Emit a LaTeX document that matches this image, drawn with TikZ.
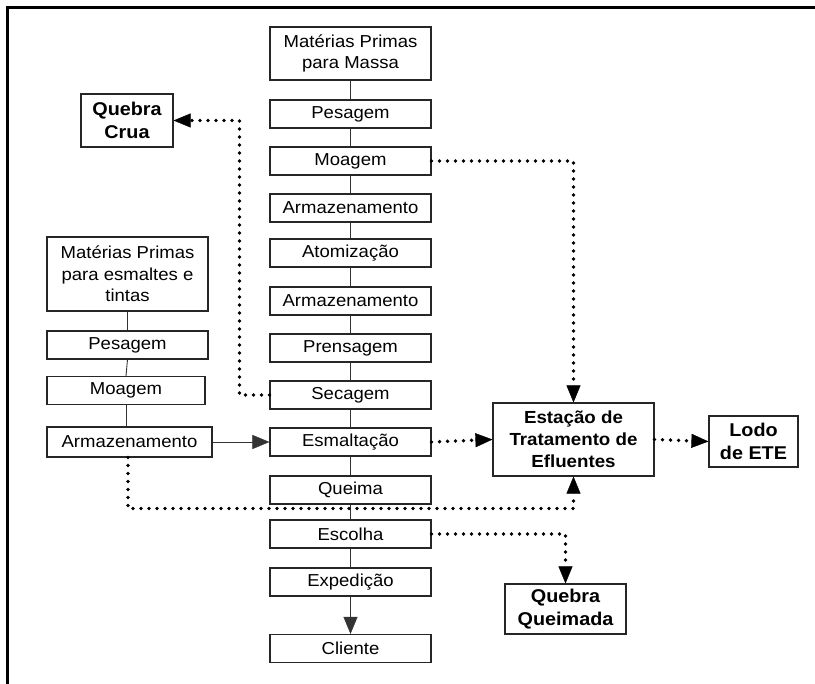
\documentclass[tikz,border=0pt]{standalone}
\usepackage{fontspec}
\setmainfont{Liberation Sans}[FakeStretch=1.07]
\usetikzlibrary{arrows.meta}
\begin{document}
\begin{tikzpicture}[x=1pt,y=-1pt,
  box/.style={draw=black!85,line width=1.1pt,minimum height=28pt,inner sep=0pt,align=center,
    font=\fontsize{17.3}{21.5}\selectfont},
  bbox/.style={box,font=\bfseries\fontsize{18.5}{22.5}\selectfont},
  link/.style={draw=black!80,line width=0.9pt},
  dots/.style={line width=3.8pt,line cap=round,dash pattern=on 0pt off 8pt},
  tip/.style={-{Triangle[length=17pt,width=14pt,line width=0.4pt]}}
]
\useasboundingbox (0,0) rectangle (815,684);
\draw[line width=3pt] (7.5,684) -- (7.5,7.5) -- (815,7.5);

% main column
\node[box,minimum width=161pt,minimum height=53pt] (mpm) at (350.5,53.5) {Matérias Primas\\para Massa};
\node[box,minimum width=161pt] (pes) at (350.5,114) {Pesagem};
\node[box,minimum width=161pt] (moa) at (350.5,161) {Moagem};
\node[box,minimum width=161pt] (arm) at (350.5,208) {Armazenamento};
\node[box,minimum width=161pt] (ato) at (350.5,253) {Atomização};
\node[box,minimum width=161pt] (armb) at (350.5,301) {Armazenamento};
\node[box,minimum width=161pt] (pre) at (350.5,348) {Prensagem};
\node[box,minimum width=161pt] (sec) at (350.5,395) {Secagem};
\node[box,minimum width=161pt] (esm) at (350.5,442) {Esmaltação};
\node[box,minimum width=161pt] (que) at (350.5,490) {Queima};
\node[box,minimum width=161pt] (esc) at (350.5,534) {Escolha};
\node[box,minimum width=161pt] (exp) at (350.5,582) {Expedição};
\node[box,minimum width=161pt] (cli) at (350.5,648.5) {Cliente};

% left column
\node[box,minimum width=161pt,minimum height=74pt] (mpe) at (127.5,274) {Matérias Primas\\para esmaltes e\\tintas};
\node[box,minimum width=161pt] (lpes) at (127.5,345) {Pesagem};
\node[box,minimum width=158pt] (lmoa) at (126,390.5) {Moagem};
\node[box,minimum width=165pt,minimum height=30pt] (larm) at (129.5,442) {Armazenamento};

% outputs
\node[bbox,minimum width=92pt,minimum height=53pt] (qc) at (127,120.5) {Quebra\\Crua};
\node[box,minimum width=161pt,minimum height=73pt,font=\bfseries\fontsize{17.5}{22}\selectfont] (ete) at (573.5,439.5) {Estação de\\Tratamento de\\Efluentes};
\node[bbox,minimum width=89pt,minimum height=51pt] (lodo) at (753.5,441.5) {Lodo\\de ETE};
\node[bbox,minimum width=121pt,minimum height=50pt] (qq) at (565.5,609) {Quebra\\Queimada};

% solid links
\foreach \a/\b in {mpm/pes,pes/moa,moa/arm,arm/ato,ato/armb,armb/pre,pre/sec,sec/esm,esm/que,que/esc,esc/exp,mpe/lpes,lpes/lmoa}
  \draw[link] (\a.south) -- (\b.north);
\draw[link] (lmoa.south) -- (lmoa.south |- larm.north);
\draw[link,tip] (exp.south) -- (cli.north);
\draw[link,tip] (larm.east) -- (esm.west);

% dotted links
\draw[dots,tip] (sec.west) -- ++(-30,0) |- (qc.east);
\draw[dots,tip] (moa.east) -| (ete.north);
\draw[dots,tip] (esm.east) -- (ete.west);
\draw[dots,tip] (ete.east) -- (lodo.west);
\draw[dots,tip] (larm.south) ++(-1.5,0) -- ++(0,51) -| (ete.south);
\draw[dots,tip] (esc.east) -| (qq.north);
\end{tikzpicture}
\end{document}
